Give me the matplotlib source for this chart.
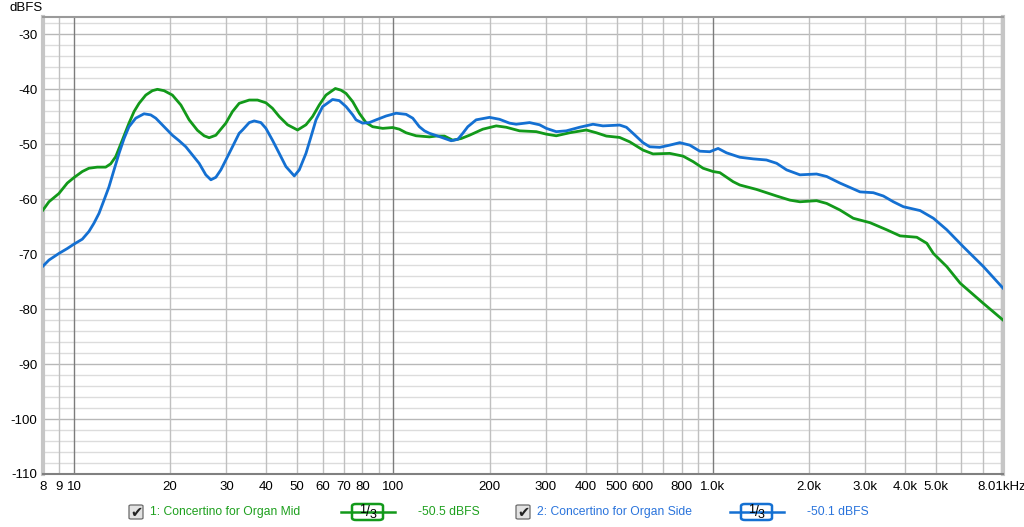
import matplotlib
matplotlib.use("Agg")
import matplotlib.pyplot as plt
from matplotlib.patches import FancyBboxPatch
from matplotlib.lines import Line2D

plt.rcParams['font.family'] = ['Liberation Sans', 'DejaVu Sans']

# Данные (частота, Гц / уровень, dBFS)
mid_freq = [8, 8.35, 8.97, 9.53, 10.0, 10.62, 11.14, 11.83, 12.57, 13.03, 13.51, 14.17,
            14.87, 15.42, 15.99, 16.78, 17.60, 18.25, 19.15, 20.33, 21.61, 22.94, 24.35,
            25.56, 26.50, 27.81, 29.89, 31.35, 32.90, 35.38, 37.55, 39.9, 41.83, 43.92,
            46.64, 50.12, 53.25, 55.85, 58.6, 61.5, 65.8, 68.5, 71.1, 74.6, 78.2, 82.1,
            86.1, 92.6, 99.5, 104.4, 109.6, 117.8, 129.7, 136.1, 144.5, 153.4, 163.0,
            173.1, 190.5, 209.9, 225.6, 248.3, 280.1, 301.1, 323.6, 356.2, 401.8, 431.9,
            464.3, 511.0, 549.3, 604.6, 649.9, 733.2, 807.1, 867.7, 932.3, 1002, 1052,
            1158, 1215, 1370, 1584, 1743, 1874, 2113, 2272, 2501, 2753, 3106, 3504, 3857,
            4351, 4677, 4905, 5403, 5948, 7038, 8100]
mid_db = [-62.0, -60.5, -59.0, -57.1, -56.1, -55.0, -54.4, -54.2, -54.2, -53.6, -52.3,
          -49.3, -46.2, -44.1, -42.6, -41.1, -40.3, -40.05, -40.3, -41.1, -42.9, -45.6,
          -47.5, -48.5, -48.85, -48.4, -46.2, -44.1, -42.6, -42.0, -42.0, -42.5, -43.5,
          -45.0, -46.5, -47.45, -46.5, -45.0, -42.9, -41.1, -39.9, -40.2, -40.8, -42.3,
          -44.4, -46.1, -46.85, -47.15, -47.0, -47.3, -47.95, -48.5, -48.7, -48.55,
          -48.55, -49.3, -49.0, -48.4, -47.3, -46.7, -46.95, -47.6, -47.75, -48.2, -48.5,
          -47.95, -47.45, -47.95, -48.55, -48.8, -49.6, -51.1, -51.8, -51.7, -52.2,
          -53.2, -54.4, -55.0, -55.2, -56.85, -57.45, -58.25, -59.45, -60.2, -60.5,
          -60.3, -60.8, -62.0, -63.5, -64.3, -65.6, -66.7, -66.95, -68.05, -69.9, -72.3,
          -75.3, -79.0, -82.0]

side_freq = [8, 8.35, 8.97, 9.53, 10.0, 10.62, 11.14, 11.55, 11.98, 12.42, 12.87, 13.35,
             13.84, 14.35, 14.87, 15.61, 16.57, 17.39, 18.04, 19.15, 20.33, 21.34, 22.40,
             23.5, 24.65, 25.87, 26.83, 27.81, 28.83, 29.89, 31.35, 32.90, 33.7, 35.38,
             36.67, 38.48, 39.9, 41.83, 43.92, 46.09, 48.95, 50.74, 53.25, 55.2, 57.25,
             60.05, 64.5, 67.7, 71.1, 74.6, 76.4, 80.1, 84.1, 88.3, 94.9, 102.0, 109.6,
             115.0, 120.6, 125.1, 129.7, 139.4, 151.6, 159.1, 164.9, 171.0, 181.6, 199.9,
             214.9, 231.0, 242.4, 266.9, 286.9, 301.1, 323.6, 347.8, 382.8, 421.5, 453.0,
             511, 536.3, 562.6, 604.6, 634.6, 682.2, 733.2, 788.1, 847.0, 910.4, 978.6,
             1039, 1104, 1215, 1338, 1472, 1584, 1702, 1874, 2113, 2272, 2501, 2890, 3181,
             3419, 3675, 3951, 4457, 4905, 5403, 6090, 7038, 8100]
side_db = [-72.2, -71.1, -69.9, -69.0, -68.2, -67.3, -65.9, -64.4, -62.6, -60.2, -57.8,
           -54.7, -51.7, -49.0, -46.85, -45.3, -44.5, -44.7, -45.3, -46.85, -48.4, -49.4,
           -50.5, -52.0, -53.5, -55.6, -56.5, -56.05, -54.7, -52.9, -50.5, -48.05, -47.45,
           -46.1, -45.8, -46.1, -47.15, -49.3, -51.7, -54.1, -55.8, -54.7, -51.7, -48.7,
           -45.6, -43.2, -41.9, -42.1, -43.2, -44.7, -45.6, -46.2, -46.1, -45.6, -44.9,
           -44.4, -44.6, -45.3, -46.85, -47.6, -48.05, -48.65, -49.4, -49.15, -48.05,
           -46.85, -45.6, -45.15, -45.5, -46.2, -46.4, -46.1, -46.5, -47.15, -47.75,
           -47.6, -46.95, -46.4, -46.7, -46.55, -46.95, -48.05, -49.75, -50.5, -50.6,
           -50.2, -49.75, -50.2, -51.3, -51.4, -50.8, -51.6, -52.4, -52.7, -52.9, -53.5,
           -54.7, -55.6, -55.45, -55.9, -57.1, -58.7, -58.85, -59.45, -60.5, -61.4,
           -62.1, -63.5, -65.6, -68.7, -72.3, -76.2]

x_ticks = [8, 9, 10, 20, 30, 40, 50, 60, 70, 80, 100, 200, 300, 400, 500, 600, 800,
           1000, 2000, 3000, 4000, 5000, 8010]
x_labels = ['8', '9', '10', '20', '30', '40', '50', '60', '70', '80', '100', '200',
            '300', '400', '500', '600', '800', '1.0k', '2.0k', '3.0k', '4.0k', '5.0k',
            '8.01kHz']
y_ticks = list(range(-30, -111, -10))

green = '#12991a'
blue = '#1470d2'
green_txt = '#1ea01e'
blue_txt = '#2a74dc'

fig = plt.figure(figsize=(10.24, 5.27), dpi=100)
ax = fig.add_axes([43 / 1024, 53 / 527, 960 / 1024, 457 / 527])

ax.set_xscale('log')
ax.set_xlim(8, 8100)
ax.set_ylim(-110, -26.9)

# сетка
for gy in range(-110, -26, 2):
    c = '#b8b8b8' if gy % 10 == 0 else '#dcdcdc'
    ax.axhline(gy, color=c, lw=1.0, zorder=1)
grid_x = [f * d for d in (1, 10, 100, 1000) for f in range(1, 10)]
for gx in grid_x:
    if gx < 8 or gx > 8100:
        continue
    if gx in (10, 100, 1000):
        ax.axvline(gx, color='#7c7c7c', lw=1.0, zorder=2)
    else:
        ax.axvline(gx, color='#c0c0c0', lw=1.0, zorder=1.5)

ax.plot(mid_freq, mid_db, color=green, lw=2.0, zorder=3)
ax.plot(side_freq, side_db, color=blue, lw=2.0, zorder=4)

ax.set_xticks(x_ticks)
ax.set_xticklabels(x_labels)
ax.xaxis.set_minor_locator(matplotlib.ticker.NullLocator())
ax.set_yticks(y_ticks)
ax.set_yticklabels([str(v) for v in y_ticks])
ax.tick_params(length=0, labelsize=9.5, colors='black', pad=5)
ax.tick_params(axis='y', pad=4)

ax.spines['left'].set_color('#c6c6c6')
ax.spines['left'].set_linewidth(3)
ax.spines['right'].set_color('#c6c6c6')
ax.spines['right'].set_linewidth(3)
ax.spines['top'].set_color('#9a9a9a')
ax.spines['top'].set_linewidth(1.5)
ax.spines['bottom'].set_color('#808080')
ax.spines['bottom'].set_linewidth(1.5)

fig.text(10 / 1024, 1 - 8 / 527, 'dBFS', fontsize=9.5, va='center', ha='left')


# легенда внизу
def legend_item(cb_x, txt_x, line_x, val_x, label, value, color, txt_color):
    y = 1 - 512 / 527
    fig.patches.append(FancyBboxPatch((cb_x / 1024, y - 7 / 527), 14 / 1024, 14 / 527,
                                      boxstyle='round,pad=0,rounding_size=0.002',
                                      transform=fig.transFigure, facecolor='#e2e2e2',
                                      edgecolor='#6a6a6a', lw=0.9))
    fig.text((cb_x + 7.5) / 1024, y, '✔', fontsize=10.5, ha='center', va='center',
             family=['DejaVu Sans'], color='#222222')
    fig.text(txt_x / 1024, y, label, fontsize=8.7, ha='left', va='center',
             color=txt_color)
    fig.lines.append(Line2D([line_x / 1024, (line_x + 54) / 1024], [y, y],
                            transform=fig.transFigure, color=color, lw=1.8))
    fig.patches.append(FancyBboxPatch(((line_x + 11) / 1024, y - 8 / 527), 31 / 1024,
                                      16 / 527,
                                      boxstyle='round,pad=0,rounding_size=0.004',
                                      transform=fig.transFigure, facecolor='white',
                                      edgecolor=color, lw=1.8))
    cx = line_x + 26.5
    fig.text((cx - 4.5) / 1024, y + 2 / 527, '1', fontsize=9, ha='center', va='center')
    fig.text(cx / 1024, y, '/', fontsize=10, ha='center', va='center')
    fig.text((cx + 5) / 1024, y - 3 / 527, '3', fontsize=9, ha='center', va='center')
    fig.text(val_x / 1024, y, value, fontsize=8.7, ha='left', va='center',
             color=txt_color)


legend_item(129, 150, 341, 418, '1: Concertino for Organ Mid', '-50.5 dBFS',
            green, green_txt)
legend_item(516, 537, 730, 807, '2: Concertino for Organ Side', '-50.1 dBFS',
            blue, blue_txt)

fig.savefig('out.png', dpi=100)
